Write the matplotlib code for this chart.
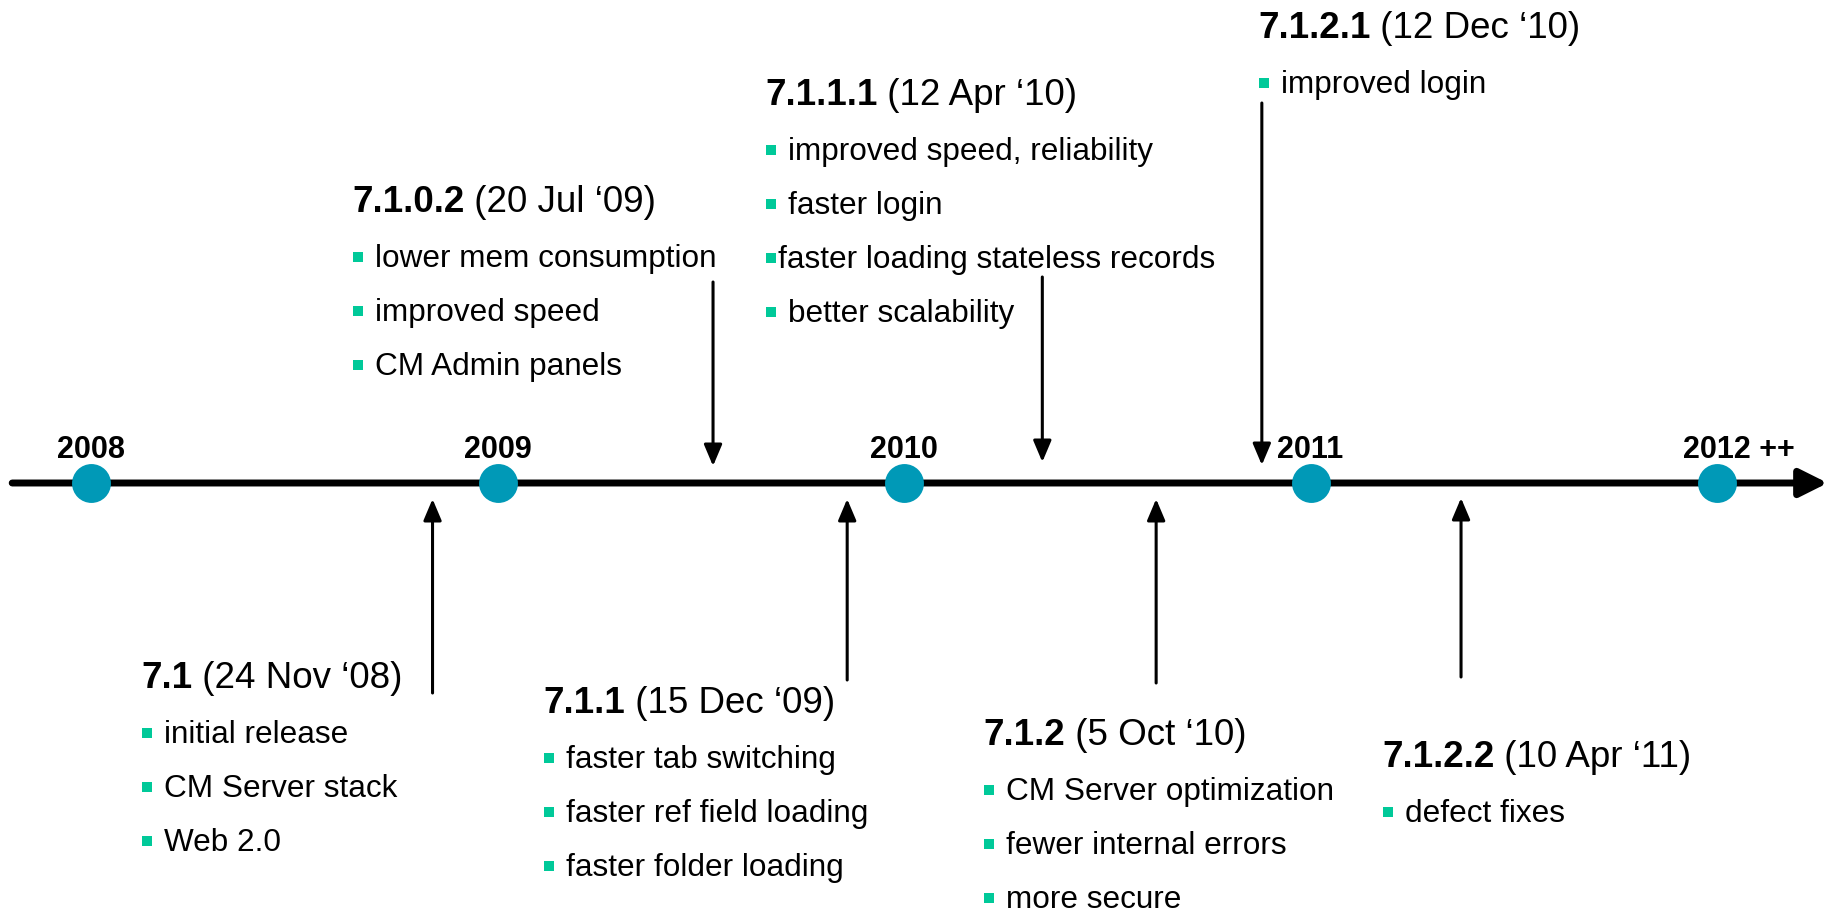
import matplotlib
matplotlib.use("Agg")
import matplotlib.pyplot as plt
import matplotlib.transforms as mtransforms

plt.rcParams["font.family"] = ["Liberation Sans", "DejaVu Sans"]

# --- data -------------------------------------------------------------
years = [2008, 2009, 2010, 2011, 2012]
year_labels = ["2008", "2009", "2010", "2011", "2012 ++"]

versions = ["7.1", "7.1.0.2", "7.1.1", "7.1.1.1", "7.1.2", "7.1.2.1", "7.1.2.2"]
dates = ["24 Nov ‘08", "20 Jul ‘09", "15 Dec ‘09", "12 Apr ‘10",
         "5 Oct ‘10", "12 Dec ‘10", "10 Apr ‘11"]
# where each release arrow meets the time axis (fractional year, as drawn)
release_pos = [2008.84, 2009.53, 2009.86, 2010.34, 2010.62, 2010.88, 2011.37]
notes = [
    ["initial release", "CM Server stack", "Web 2.0"],
    ["lower mem consumption", "improved speed", "CM Admin panels"],
    ["faster tab switching", "faster ref field loading", "faster folder loading"],
    ["improved speed, reliability", "faster login",
     "faster loading stateless records", "better scalability"],
    ["CM Server optimization", "fewer internal errors", "more secure"],
    ["improved login"],
    ["defect fixes"],
]
tight_notes = {(3, 2)}   # bullet sits right against the text

# --- layout (pixels from top-left) ------------------------------------
W, H = 1833, 914
AXIS_Y = 483
block_xy = [(141, 688), (352, 212), (543, 713), (765, 105),
            (983, 745), (1258, 38), (1382, 767)]
arrow_tail = [693, 282, 680, 277, 683, 103, 677]
arrow_tip = [499, 466, 499, 462, 499, 465, 498]

DOT = "#0099B7"
BULLET = "#00C999"

fig = plt.figure(figsize=(W / 100, H / 100), dpi=100)
ax = fig.add_axes([0, 0, 1, 1])
ax.set_xlim(2007.776, 2012.285)
ax.set_ylim(H, 0)
ax.axis("off")

# x in screen pixels, y in data (pixels from top)
TX = mtransforms.blended_transform_factory(mtransforms.IdentityTransform(), ax.transData)

# main time axis
ax.annotate("", xy=(2012.272, AXIS_Y), xytext=(2007.806, AXIS_Y),
            arrowprops=dict(arrowstyle="-|>,head_length=1.2,head_width=0.6",
                            mutation_scale=14, lw=5, color="black",
                            shrinkA=0, shrinkB=0), zorder=2)
ax.plot(years, [AXIS_Y] * len(years), "o", ms=28, color=DOT,
        markeredgewidth=0, zorder=3)
for yr, lbl in zip(years, year_labels):
    ax.annotate(lbl, (yr, AXIS_Y), xytext=(-34, 25), textcoords="offset pixels",
                ha="left", va="baseline", fontsize=22, fontweight="bold")

# release arrows
for x, tail, tip in zip(release_pos, arrow_tail, arrow_tip):
    ax.annotate("", xy=(x, tip), xytext=(x, tail),
                arrowprops=dict(arrowstyle="-|>,head_length=1.3,head_width=0.55",
                                mutation_scale=10, lw=2.2, color="black",
                                shrinkA=0, shrinkB=0))

# text blocks
renderer = fig.canvas.get_renderer()
for i, (ver, date, items) in enumerate(zip(versions, dates, notes)):
    bx, by = block_xy[i]
    t = ax.text(bx, by, ver, transform=TX, ha="left", va="baseline",
                fontsize=26.5, fontweight="bold")
    x1 = t.get_window_extent(renderer=renderer).x1
    ax.text(x1, by, " (" + date + ")", transform=TX, ha="left",
            va="baseline", fontsize=26.5)
    for j, item in enumerate(items):
        yb = by + 55 + 54 * j
        ax.plot([bx + 6], [yb - 10], "s", ms=6.5, color=BULLET,
                markeredgewidth=0, transform=TX)
        dx = 13 if (i, j) in tight_notes else 23
        ax.text(bx + dx, yb, item, transform=TX, ha="left", va="baseline",
                fontsize=22.7)

fig.savefig("out.png", dpi=100, facecolor="white")
